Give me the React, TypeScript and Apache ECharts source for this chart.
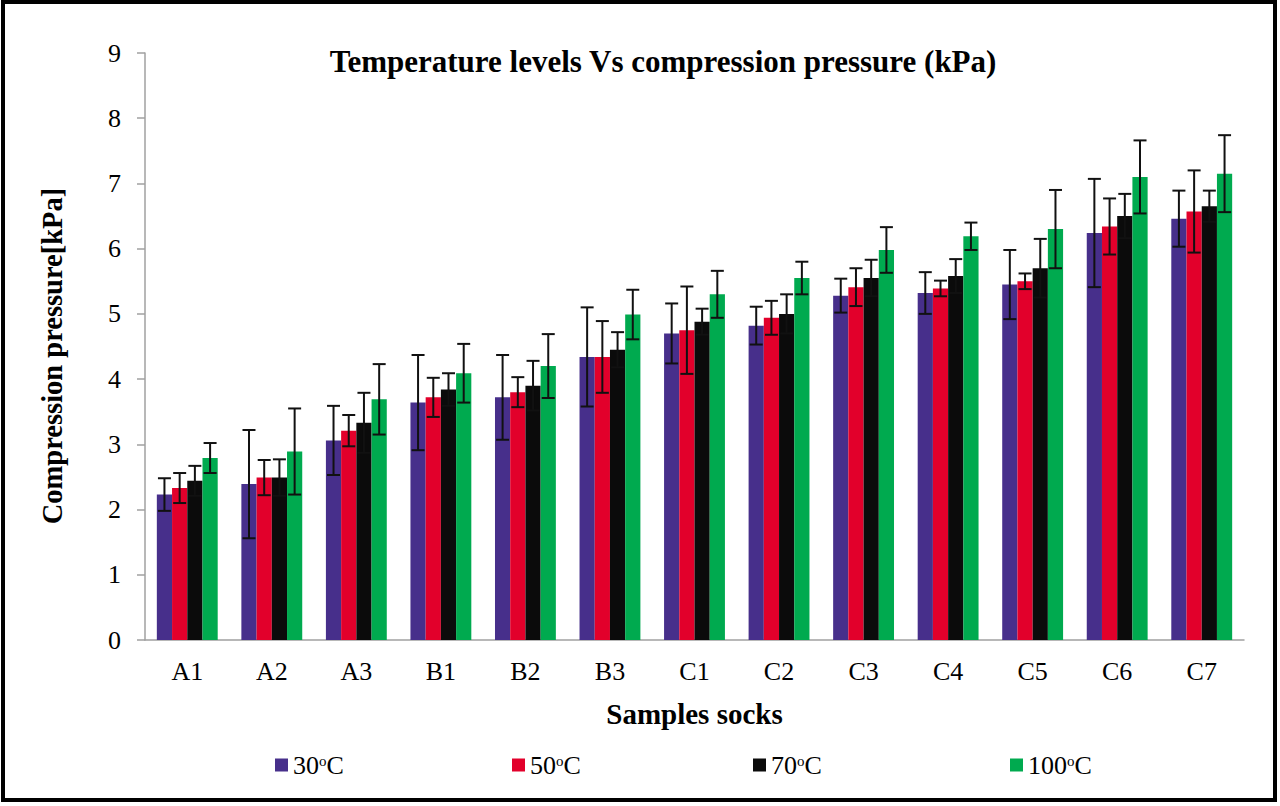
import React, { useEffect, useRef } from 'react';
import * as echarts from 'echarts';

const categories = ['A1', 'A2', 'A3', 'B1', 'B2', 'B3', 'C1', 'C2', 'C3', 'C4', 'C5', 'C6', 'C7'];
const temps = ['30', '50', '70', '100'];
const colors = ['#472f8b', '#e2002b', '#0b0b0b', '#00aa4f'];
const legendLeft = [270, 507, 748, 1005];

// mean compression pressure (kPa)
const t30 = [2.23, 2.39, 3.06, 3.64, 3.72, 4.34, 4.70, 4.82, 5.28, 5.32, 5.45, 6.24, 6.46];
const t50 = [2.33, 2.49, 3.21, 3.72, 3.80, 4.34, 4.75, 4.94, 5.41, 5.39, 5.50, 6.34, 6.57];
const t70 = [2.44, 2.49, 3.33, 3.84, 3.90, 4.45, 4.88, 5.00, 5.55, 5.58, 5.70, 6.50, 6.65];
const t100 = [2.79, 2.89, 3.69, 4.09, 4.20, 4.99, 5.30, 5.55, 5.98, 6.19, 6.30, 7.10, 7.15];

// standard deviation
const e30 = [0.25, 0.83, 0.53, 0.73, 0.65, 0.76, 0.46, 0.29, 0.26, 0.32, 0.53, 0.83, 0.43];
const e50 = [0.23, 0.27, 0.24, 0.30, 0.23, 0.55, 0.67, 0.26, 0.29, 0.12, 0.12, 0.43, 0.63];
const e70 = [0.23, 0.28, 0.46, 0.25, 0.38, 0.27, 0.20, 0.30, 0.28, 0.26, 0.45, 0.34, 0.24];
const e100 = [0.23, 0.66, 0.54, 0.45, 0.49, 0.38, 0.36, 0.25, 0.35, 0.21, 0.60, 0.56, 0.59];

const yTicks = [0, 9, 1]; // min, max, interval

function App() {
  const chartRef = useRef(null);

  useEffect(() => {
    const chart = echarts.init(chartRef.current, null, { renderer: 'svg' });
    const means = [t30, t50, t70, t100];
    const errs = [e30, e50, e70, e100];
    const names = temps.map((t) => t + 'oC');

    const errData: number[][] = [];
    means.forEach((arr, s) => {
      arr.forEach((v, i) => errData.push([i, s, v, errs[s][i]]));
    });

    const barSeries = names.map((n, s) => ({
      name: n,
      type: 'bar',
      data: means[s],
      barWidth: '18%',
      barGap: '0%',
      itemStyle: { color: colors[s] },
    }));

    const legends = names.map((n, s) => ({
      data: [n],
      top: 747,
      left: legendLeft[s],
      itemWidth: 13,
      itemHeight: 13,
      itemGap: 0,
      icon: 'rect',
      formatter: (name: string) => '{n|' + name.replace('oC', '}{s|o}{n|C}'),
      textStyle: {
        color: '#000',
        rich: {
          n: { fontFamily: 'Liberation Serif', fontSize: 26, color: '#000' },
          s: { fontFamily: 'Liberation Serif', fontSize: 15, color: '#000', padding: [0, 0, 9, 0] },
        },
      },
    }));

    const options = {
      animation: false,
      backgroundColor: '#fff',
      title: {
        text: 'Temperature levels Vs compression pressure (kPa)',
        left: 658,
        textAlign: 'center',
        top: 41,
        textStyle: { fontFamily: 'Liberation Serif', fontWeight: 'bold', fontSize: 31, color: '#000' },
      },
      legend: legends,
      grid: { left: 145, right: 36, top: 53, bottom: 166 },
      xAxis: {
        type: 'category',
        data: categories,
        name: 'Samples socks',
        nameLocation: 'middle',
        nameGap: 59,
        nameTextStyle: { fontFamily: 'Liberation Serif', fontWeight: 'bold', fontSize: 29, color: '#000' },
        axisLine: { lineStyle: { color: '#a0a0a0', width: 1.5 } },
        axisTick: { length: 8, lineStyle: { color: '#a0a0a0', width: 1.5 } },
        axisLabel: { fontFamily: 'Liberation Serif', fontSize: 26, color: '#000', margin: 18 },
      },
      yAxis: {
        type: 'value',
        min: yTicks[0],
        max: yTicks[1],
        interval: yTicks[2],
        axisLine: { show: true, lineStyle: { color: '#a0a0a0', width: 1.5 } },
        axisTick: { show: true, length: 8, lineStyle: { color: '#a0a0a0', width: 1.5 } },
        splitLine: { show: false },
        axisLabel: { fontFamily: 'Liberation Serif', fontSize: 26, color: '#000', margin: 24 },
      },
      graphic: [
        {
          type: 'rect',
          shape: { x: 3, y: 2, width: 1272, height: 798 },
          style: { fill: 'none', stroke: '#000', lineWidth: 4 },
          silent: true,
        },
        {
          type: 'text',
          x: 52,
          y: 356,
          rotation: Math.PI / 2,
          style: {
            text: 'Compression pressure[kPa]',
            fontFamily: 'Liberation Serif',
            fontWeight: 'bold',
            fontSize: 28.5,
            fill: '#000',
            textAlign: 'center',
            textVerticalAlign: 'middle',
          },
        },
      ],
      series: [
        ...barSeries,
        {
          type: 'custom',
          name: 'err',
          z: 5,
          encode: { x: 0, y: 2 },
          data: errData,
          renderItem: (params: any, api: any) => {
            const cat = api.value(0);
            const s = api.value(1);
            const v = api.value(2);
            const e = api.value(3);
            const bw = api.size([1, 0])[0] * 0.18;
            const x = api.coord([cat, v])[0] + (s - 1.5) * bw;
            const yt = api.coord([cat, v + e])[1];
            const yb = api.coord([cat, v - e])[1];
            const cap = 6.5;
            const st = { stroke: '#111', lineWidth: 2 };
            return {
              type: 'group',
              children: [
                { type: 'line', shape: { x1: x, y1: yt, x2: x, y2: yb }, style: st },
                { type: 'line', shape: { x1: x - cap, y1: yt, x2: x + cap, y2: yt }, style: st },
                { type: 'line', shape: { x1: x - cap, y1: yb, x2: x + cap, y2: yb }, style: st },
              ],
            };
          },
        },
      ],
    };

    chart.setOption(options);
    return () => {
      chart.dispose();
    };
  }, []);

  return <div ref={chartRef} style={{ position: 'fixed', left: 0, top: 0, width: '1280px', height: '806px' }}></div>;
}

export default App;
